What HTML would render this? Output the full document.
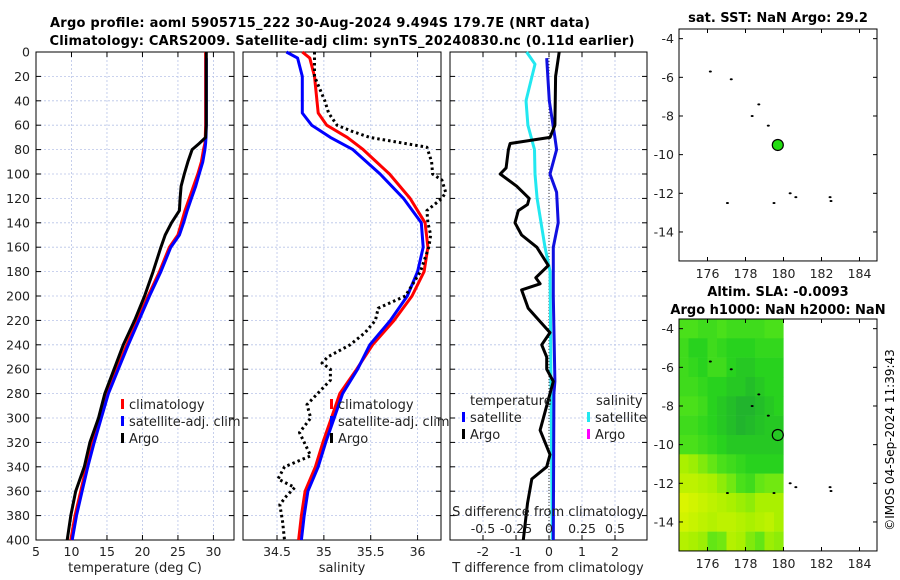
<!DOCTYPE html>
<html><head><meta charset="utf-8"><style>
html,body{margin:0;padding:0;background:#fff;}
svg{display:block;font-family:"DejaVu Sans","Liberation Sans",sans-serif;}
</style></head><body>
<svg id="c" width="900" height="580" viewBox="0 0 900 580" xmlns="http://www.w3.org/2000/svg">
<text x="320" y="27" text-anchor="middle" font-weight="bold" font-size="13" textLength="540">Argo profile: aoml 5905715_222 30-Aug-2024 9.494S 179.7E (NRT data)</text>
<text x="342" y="45" text-anchor="middle" font-weight="bold" font-size="13" textLength="585">Climatology: CARS2009. Satellite-adj clim: synTS_20240830.nc (0.11d earlier)</text>
<text x="778" y="22" text-anchor="middle" font-weight="bold" font-size="13">sat. SST: NaN Argo: 29.2</text>
<text x="778" y="296" text-anchor="middle" font-weight="bold" font-size="13">Altim. SLA: -0.0093</text>
<text x="778" y="314" text-anchor="middle" font-weight="bold" font-size="13">Argo h1000: NaN h2000: NaN</text>
<text transform="translate(894,440) rotate(-90)" text-anchor="middle" font-size="12">©IMOS 04-Sep-2024 11:39:43</text>
</svg>
<script>
// ---- data ----
const depthT = [0,20,40,60,70,75,80,90,100,110,120,130,140,150,160,180,200,220,240,260,280,300,320,340,360,380,400];
const argoT = [29.0,29.0,29.0,29.0,28.9,28.0,27.0,26.4,25.9,25.45,25.3,25.2,24.1,23.2,22.6,21.5,20.3,18.9,17.3,16.0,14.7,13.8,12.6,11.8,10.6,9.9,9.4];
const climT = [28.9,28.9,28.9,28.9,28.85,28.8,28.6,28.3,27.8,27.2,26.6,26.0,25.5,25.0,23.8,22.4,20.8,19.3,17.8,16.4,15.0,14.0,13.0,12.1,11.3,10.5,9.9];
const depthSatT = [5,20,40,60,70,75,80,90,100,110,120,130,140,150,160,180,200,220,240,260,280,300,320,340,360,380,400];
const satT = [29.0,29.0,29.0,29.0,28.95,28.9,28.8,28.5,28.0,27.5,26.9,26.3,25.8,25.2,24.0,22.6,21.0,19.5,18.0,16.6,15.2,14.2,13.2,12.3,11.5,10.7,10.1];
const depthS = [0,5,20,50,60,70,80,100,120,140,160,180,200,220,240,260,280,300,320,340,360,380,400];
const satS = [34.60,34.72,34.77,34.77,34.87,35.07,35.31,35.60,35.85,36.04,36.06,36.0,35.89,35.71,35.49,35.36,35.20,35.11,35.02,34.94,34.83,34.79,34.76];
const climS = [34.77,34.85,34.90,34.94,35.03,35.25,35.42,35.70,35.92,36.08,36.11,36.07,35.94,35.75,35.52,35.35,35.17,35.08,34.99,34.91,34.80,34.76,34.73];
const depthArgoS = [0,20,40,50,60,65,70,78,90,100,105,115,120,130,140,150,160,180,200,210,220,230,240,250,255,260,269,289,300,312,331,340,350,357,364,371,385,400];
const argoS = [34.9,34.9,35.01,35.05,35.14,35.3,35.49,36.1,36.15,36.16,36.26,36.3,36.26,36.1,36.11,36.14,36.12,36.03,35.87,35.58,35.55,35.44,35.28,35.04,34.98,35.07,35.07,34.82,34.86,34.74,34.86,34.58,34.51,34.69,34.6,34.53,34.56,34.58];
const depthArgoTd = [0,20,60,70,75,80,95,100,110,120,125,130,140,150,160,175,185,190,195,210,230,240,250,260,270,290,310,330,340,350,370,400];
const argoTd = [0.31,0.2,0.18,0.03,-1.18,-1.23,-1.3,-1.48,-0.98,-0.6,-0.65,-0.93,-1.03,-0.83,-0.37,-0.02,-0.4,-0.27,-0.83,-0.63,0.03,-0.22,-0.07,-0.07,0.13,-0.07,-0.27,0.03,-0.07,-0.52,-0.65,-0.78];
const depthSatTd = [5,40,70,80,100,115,140,160,200,270,280,400];
const satTd = [-0.07,0.01,0.18,0.23,0.03,0.23,0.28,0.13,0.13,0.18,0.15,0.13];
const depthSatSd = [0,10,40,60,80,100,120,160,180,400];
const satSd = [-0.17,-0.106,-0.174,-0.16,-0.11,-0.106,-0.09,-0.03,0.008,0.025];
const depthTicks = [0,20,40,60,80,100,120,140,160,180,200,220,240,260,280,300,320,340,360,380,400];
const tempTicks = [5,10,15,20,25,30];
const salTicks = [34.5,35,35.5,36];
const tdTicks = [-2,-1,0,1,2];
const sdTicks = [-0.5,-0.25,0,0.25,0.5];
const sdTickLabels = ["-0.5","-0.25","0","0.25","0.5"];
const islandLon = [176.15,177.25,178.7,178.35,179.2,180.35,180.65,182.5,182.45,177.05,179.5];
const islandLat = [-5.7,-6.1,-7.4,-8.0,-8.5,-12.0,-12.2,-12.4,-12.2,-12.5,-12.5];
const floatLon = 179.7, floatLat = -9.5;
const mapLonTicks = [176,178,180,182,184];
const mapLatTicks = [-4,-6,-8,-10,-12,-14];
const slaGrid = [
[.35,.35,.3,.3,.35,.3,.3,.3,.3,.35,.35],
[.3,.2,.2,.3,.25,.2,.2,.2,.25,.25,.25],
[.3,.25,.2,.3,.3,.2,.15,.15,.2,.2,.2],
[.3,.3,.25,.2,.2,.15,.15,.1,.15,.2,.2],
[.35,.35,.3,.2,.15,.1,.05,.05,.1,.15,.2],
[.3,.3,.25,.2,.15,.1,.05,.08,.12,.15,.15],
[.35,.35,.3,.25,.2,.15,.15,.15,.15,.15,.15],
[.7,.65,.55,.45,.35,.3,.25,.2,.2,.2,.2],
[.8,.8,.75,.7,.6,.5,.35,.3,.45,.5,.5],
[.95,.9,.85,.8,.75,.7,.65,.6,.7,.7,.7],
[.9,.85,.8,.75,.8,.8,.75,.7,.75,.8,.7],
[.75,.7,.65,.45,.5,.75,.7,.55,.45,.65,.6]];

// ---- drawing ----
const NS="http://www.w3.org/2000/svg";
const svg=document.getElementById('c');
function mk(tag,attrs,parent){const e=document.createElementNS(NS,tag);for(const k in attrs)e.setAttribute(k,attrs[k]);(parent||svg).appendChild(e);return e;}
const top0=52,bot0=540;
const yD=d=>top0+(d/400)*(bot0-top0);
const P1={l:36,r:234,x0:5,x1:32.9};
const P2={l:243,r:441,x0:34.137,x1:36.25};
const P3={l:450,r:647,x0:-3.0,x1:2.97};
function sx(P,v){return P.l+(v-P.x0)/(P.x1-P.x0)*(P.r-P.l);}
function panelFrame(P,xt,name){
  const g=mk('g',{});
  
  
  depthTicks.forEach(d=>{const l=mk('line',{x1:P.l,x2:P.r,y1:yD(d),y2:yD(d),stroke:'#b8c4e8','stroke-width':0.8,'stroke-dasharray':'2,2'},g);
    
    mk('line',{x1:P.l,x2:P.l+5,y1:yD(d),y2:yD(d),stroke:'#000'},g);mk('line',{x1:P.r-5,x2:P.r,y1:yD(d),y2:yD(d),stroke:'#000'},g);});
  xt.forEach(v=>{const x=sx(P,v);const l=mk('line',{x1:x,x2:x,y1:top0,y2:bot0,stroke:'#b8c4e8','stroke-width':0.8,'stroke-dasharray':'2,2'},g);
    
    mk('line',{x1:x,x2:x,y1:bot0-5,y2:bot0,stroke:'#000'},g);mk('line',{x1:x,x2:x,y1:top0,y2:top0+5,stroke:'#000'},g);
    const t=mk('text',{x:x,y:bot0+16,'text-anchor':'middle','font-size':12.5,fill:'#222'},g);t.textContent=String(v);
    });
  mk('rect',{x:P.l,y:top0,width:P.r-P.l,height:bot0-top0,fill:'none',stroke:'#000','stroke-width':1},g);
  return g;
}
function line(P,ds,vs,col,w,name,dash,scale){
  const pts=ds.map((d,i)=>sx(P,vs[i]*(scale||1)).toFixed(1)+','+yD(d).toFixed(1)).join(' ');
  const a={points:pts,fill:'none',stroke:col,'stroke-width':w,'stroke-linejoin':'round'};
  if(dash)a['stroke-dasharray']=dash;
  const e=mk('polyline',a);
  
  
}
panelFrame(P1,tempTicks,'temperature-panel');
panelFrame(P2,salTicks,'salinity-panel');
panelFrame(P3,tdTicks,'difference-panel');
// y tick labels
depthTicks.forEach(d=>{const t=mk('text',{x:30,y:yD(d)+4.5,'text-anchor':'end','font-size':12.5,fill:'#222'});t.textContent=String(d);
  });
// x axis titles
[[135,'temperature (deg C)','temperature-axis-title'],[342,'salinity','salinity-axis-title'],[548,'T difference from climatology','t-diff-axis-title']].forEach(a=>{
  const t=mk('text',{x:a[0],y:572,'text-anchor':'middle','font-size':13,fill:'#222'});t.textContent=a[1];
  });
// zero line in diff panel
const zl=mk('line',{x1:sx(P3,0),x2:sx(P3,0),y1:top0,y2:bot0,stroke:'#333','stroke-width':1,'stroke-dasharray':'1,2'});

// series
line(P1,depthT,climT,'#ff0000',3,'temp-climatology-line');
line(P1,depthSatT,satT,'#0000ff',3,'temp-satellite-line');
line(P1,depthT,argoT,'#000',3,'temp-argo-line');
line(P2,depthS,climS,'#ff0000',3,'sal-climatology-line');
line(P2,depthS,satS,'#0000ff',3,'sal-satellite-line');
line(P2,depthArgoS,argoS,'#000',3,'sal-argo-line','2.5,3');
line(P3,depthSatSd,satSd,'#22e8f0',3,'sal-diff-satellite-line',null,4);
line(P3,depthSatTd,satTd,'#1010e0',3,'temp-diff-satellite-line');
line(P3,depthArgoTd,argoTd,'#000',3,'temp-diff-argo-line');
// S diff axis labels
const sdt=mk('text',{x:548,y:516,'text-anchor':'middle','font-size':13,fill:'#222'});sdt.textContent='S difference from climatology';

sdTicks.forEach((v,i)=>{const t=mk('text',{x:sx(P3,v*4),y:533,'text-anchor':'middle','font-size':12.5,fill:'#222'});t.textContent=sdTickLabels[i];
  });
// legends
function leg(x,y,col,label,name){
  const g=mk('g',{});
  mk('rect',{x:x,y:y-10,width:3,height:10,fill:col},g);
  const t=mk('text',{x:x+8,y:y,'font-size':13,fill:'#222'},g);t.textContent=label;
}
leg(121,409,'#ff0000','climatology','legend-climatology');
leg(121,426,'#0000ff','satellite-adj. clim','legend-satellite');
leg(121,443,'#000','Argo','legend-argo');
leg(330,409,'#ff0000','climatology','legend-sal-climatology');
leg(330,426,'#0000ff','satellite-adj. clim','legend-sal-satellite');
leg(330,443,'#000','Argo','legend-sal-argo');
const tt=mk('text',{x:470,y:405,'font-size':13,fill:'#222'});tt.textContent='temperature';
const st=mk('text',{x:596,y:405,'font-size':13,fill:'#222'});st.textContent='salinity';
leg(462,422,'#0000ff','satellite','legend-tdiff-satellite');
leg(462,439,'#000','Argo','legend-tdiff-argo');
leg(587,422,'#22e8f0','satellite','legend-sdiff-satellite');
leg(587,439,'#ff00ff','Argo','legend-sdiff-argo');
// maps
const ML=679,MR=877;
const mx=lon=>ML+(lon-174.5)*19;
function mapFrame(topY,name,heat){
  const my=lat=>topY+(-3.5-lat)*19.33;
  const g=mk('g',{});
  if(heat){
    const stops=[[0,[30,170,50]],[0.2,[40,210,30]],[0.4,[85,228,25]],[0.7,[170,240,0]],[1,[228,246,0]]];
    const cm=v=>{for(let i=1;i<stops.length;i++){if(v<=stops[i][0]){const a=stops[i-1],b=stops[i],f=(v-a[0])/(b[0]-a[0]);return 'rgb('+a[1].map((c,k)=>Math.round(c+(b[1][k]-c)*f)).join(',')+')';}}return 'rgb(228,246,0)';};
    slaGrid.forEach((row,r)=>row.forEach((v,c)=>{
      const cell=mk('rect',{x:mx(174.5+c*0.5),y:my(-3.5-r),width:9.6,height:19.6,fill:cm(v)},g);
      }));
  }
  mapLatTicks.forEach(l=>{const y=my(l);mk('line',{x1:ML,x2:ML+4,y1:y,y2:y,stroke:'#000'},g);mk('line',{x1:MR-4,x2:MR,y1:y,y2:y,stroke:'#000'},g);
    const t=mk('text',{x:ML-5,y:y+4.5,'text-anchor':'end','font-size':12.5,fill:'#222'},g);t.textContent=String(l);
    });
  const bot=my(-15.5);
  mapLonTicks.forEach(l=>{const x=mx(l);mk('line',{x1:x,x2:x,y1:bot-4,y2:bot,stroke:'#000'},g);mk('line',{x1:x,x2:x,y1:topY,y2:topY+4,stroke:'#000'},g);
    const t=mk('text',{x:x,y:bot+17,'text-anchor':'middle','font-size':12.5,fill:'#222'},g);t.textContent=String(l);
    });
  islandLon.forEach((lo,i)=>{const d=mk('ellipse',{cx:mx(lo),cy:my(islandLat[i]),rx:1.5,ry:1,fill:'#000'},g);
    });
  mk('rect',{x:ML,y:topY,width:MR-ML,height:bot-topY,fill:'none',stroke:'#000'},g);
  const fc=mk('circle',{cx:mx(floatLon),cy:my(floatLat),r:5.5,fill:heat?'none':'#22dd11',stroke:'#000','stroke-width':1.2},g);
  
}
mapFrame(29,'sst-map',false);
mapFrame(319,'sla-map',true);
</script>
</body></html>
